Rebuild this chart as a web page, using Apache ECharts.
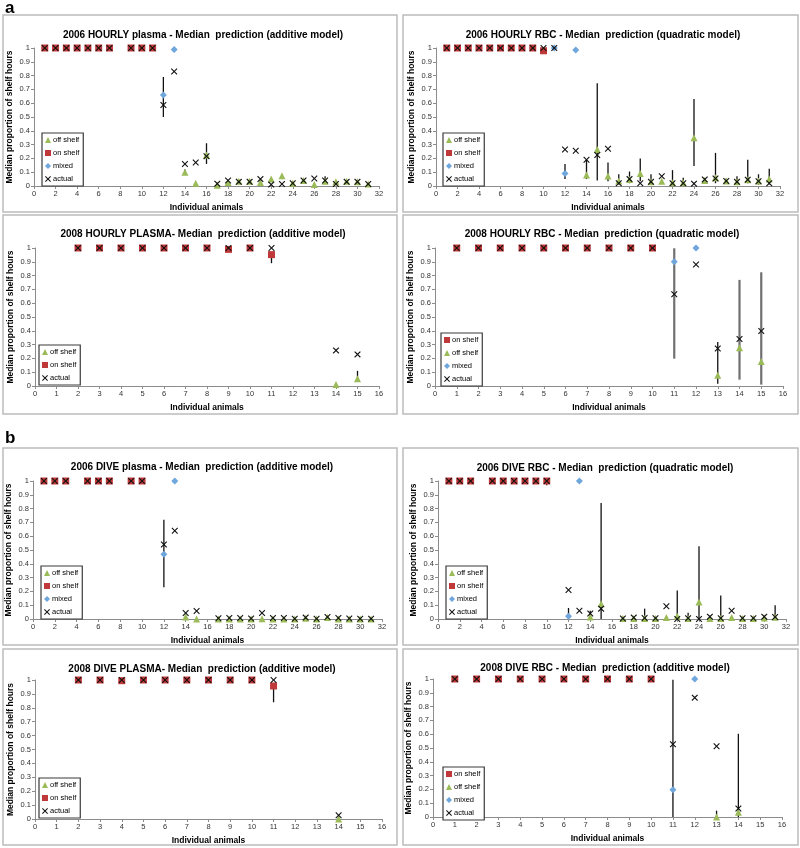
<!DOCTYPE html>
<html><head><meta charset="utf-8">
<script src="https://cdn.jsdelivr.net/npm/echarts@6/dist/echarts.min.js"></script>
<style>html,body{margin:0;padding:0;background:#fff}#c{width:800px;height:848px}</style>
</head><body><div id="c"></div>
<script>
// ---------- DATA ----------
const titles = [
  "2006 HOURLY plasma - Median  prediction (additive model)",
  "2006 HOURLY RBC - Median  prediction (quadratic model)",
  "2008 HOURLY PLASMA- Median  prediction (additive model)",
  "2008 HOURLY RBC - Median  prediction (quadratic model)",
  "2006 DIVE plasma - Median  prediction (additive model)",
  "2006 DIVE RBC - Median  prediction (quadratic model)",
  "2008 DIVE PLASMA- Median  prediction (additive model)",
  "2008 DIVE RBC - Median  prediction (additive model)"
];
const yTicks = [0,0.1,0.2,0.3,0.4,0.5,0.6,0.7,0.8,0.9,1];
const xMaxWide = 32, xMaxNarrow = 16;

// Panel 1: 2006 HOURLY plasma
const p1On = [[1,1],[2,1],[3,1],[4,1],[5,1],[6,1],[7,1],[9,1],[10,1],[11,1]];
const p1Mixed = [[12,0.66],[13,0.99]];
const p1Off = [[14,0.10],[15,0.02],[16,0.225],[17,0.005],[18,0.025],[19,0.035],[20,0.035],[21,0.025],[22,0.05],[23,0.075],[24,0.02],[25,0.04],[26,0.01],[27,0.035],[28,0.03],[29,0.035],[30,0.03],[31,0.015]];
const p1Actual = [[1,1],[2,1],[3,1],[4,1],[5,1],[6,1],[7,1],[9,1],[10,1],[11,1],[12,0.587],[13,0.83],[14,0.16],[15,0.17],[16,0.215],[17,0.017],[18,0.04],[19,0.03],[20,0.03],[21,0.05],[22,0.01],[23,0.015],[24,0.02],[25,0.04],[26,0.055],[27,0.04],[28,0.015],[29,0.03],[30,0.03],[31,0.015]];
const p1Err = [[12,0.50,0.79],[14,0.08,0.12],[16,0.16,0.31],[27,0.03,0.07]];

// Panel 2: 2006 HOURLY RBC
const p2On = [[1,1],[2,1],[3,1],[4,1],[5,1],[6,1],[7,1],[8,1],[9,1],[10,0.98]];
const p2Mixed = [[11,1],[12,0.09],[13,0.985]];
const p2Off = [[14,0.08],[15,0.265],[16,0.072],[17,0.036],[18,0.048],[19,0.09],[20,0.03],[21,0.034],[22,0.024],[23,0.024],[24,0.35],[25,0.04],[26,0.06],[27,0.036],[28,0.03],[29,0.046],[30,0.036],[31,0.05]];
const p2Actual = [[1,1],[2,1],[3,1],[4,1],[5,1],[6,1],[7,1],[8,1],[9,1],[10,1],[11,1],[12,0.265],[13,0.255],[14,0.19],[15,0.224],[16,0.27],[17,0.02],[18,0.05],[19,0.02],[20,0.03],[21,0.07],[22,0.02],[23,0.02],[24,0.017],[25,0.048],[26,0.055],[27,0.036],[28,0.03],[29,0.046],[30,0.034],[31,0.02]];
const p2Err = [[10,0.96,1.0],[12,0.05,0.16],[13,0.97,1.0],[14,0.05,0.19],[15,0.04,0.745],[16,0.035,0.17],[17,0.01,0.085],[18,0.02,0.105],[19,0.035,0.2],[20,0.01,0.085],[22,0.01,0.115],[23,0.01,0.06],[24,0.145,0.63],[26,0.02,0.24],[27,0.02,0.055],[28,0.01,0.07],[29,0.02,0.19],[30,0.01,0.085],[31,0.01,0.125]];

// Panel 3: 2008 HOURLY PLASMA
const p3On = [[2,1],[3,1],[4,1],[5,1],[6,1],[7,1],[8,1],[9,0.99],[10,1],[11,0.952]];
const p3Off = [[14,0.01],[15,0.053]];
const p3Actual = [[2,1],[3,1],[4,1],[5,1],[6,1],[7,1],[8,1],[9,1],[10,1],[11,1],[14,0.258],[15,0.229]];
const p3Err = [[11,0.89,0.95],[15,0.03,0.11]];

// Panel 4: 2008 HOURLY RBC
const p4On = [[1,1],[2,1],[3,1],[4,1],[5,1],[6,1],[7,1],[8,1],[9,1],[10,1]];
const p4Off = [[13,0.077],[14,0.277],[15,0.178]];
const p4Mixed = [[11,0.90],[12,1.0]];
const p4Actual = [[1,1],[2,1],[3,1],[4,1],[5,1],[6,1],[7,1],[8,1],[9,1],[10,1],[11,0.665],[12,0.88],[13,0.272],[14,0.34],[15,0.398]];
const p4Err = [[11,0.198,0.998],[13,0.017,0.318],[14,0.046,0.769],[15,0.01,0.824]];
const p4DarkErrAnimals = [13];

// Panel 5: 2006 DIVE plasma
const p5On = [[1,1],[2,1],[3,1],[5,1],[6,1],[7,1],[9,1],[10,1]];
const p5Mixed = [[12,0.47],[13,1.0]];
const p5Off = [[14,0.015],[15,0],[17,0],[18,0],[19,0],[20,0],[21,0.002],[22,0],[23,0],[24,0],[25,0.005],[26,0],[27,0.01],[28,0],[29,0],[30,0],[31,0]];
const p5Actual = [[1,1],[2,1],[3,1],[5,1],[6,1],[7,1],[9,1],[10,1],[12,0.54],[13,0.64],[14,0.043],[15,0.058],[17,0.005],[18,0.007],[19,0.007],[20,0.003],[21,0.043],[22,0.007],[23,0.007],[24,0.002],[25,0.01],[26,0.002],[27,0.015],[28,0.007],[29,0.003],[30,0.002],[31,0.002]];
const p5Err = [[12,0.23,0.72]];

// Panel 6: 2006 DIVE RBC
const p6On = [[1,1],[2,1],[3,1],[5,1],[6,1],[7,1],[8,1],[9,1],[10,1]];
const p6Mixed = [[12,0.02],[13,1.0]];
const p6Off = [[14,0.015],[15,0.11],[17,0.003],[18,0.003],[19,0.003],[20,0.003],[21,0.01],[22,0.02],[23,0.003],[24,0.123],[25,0.003],[26,0.003],[27,0.01],[28,0.003],[29,0.003],[30,0.007],[31,0.012]];
const p6Actual = [[1,1],[2,1],[3,1],[5,1],[6,1],[7,1],[8,1],[9,1],[10,1],[12,0.21],[13,0.06],[14,0.04],[15,0.075],[17,0.003],[18,0.01],[19,0.007],[20,0.005],[21,0.092],[22,0],[23,0.005],[24,0],[25,0.017],[26,0.005],[27,0.06],[28,0.005],[29,0.005],[30,0.017],[31,0.015]];
const p6Err = [[10,0.97,1.0],[12,0,0.08],[14,0,0.06],[15,0,0.84],[19,0,0.075],[22,0,0.207],[23,0,0.045],[24,0,0.527],[26,0,0.17],[31,0,0.1]];

// Panel 7: 2008 DIVE PLASMA
const p7On = [[2,1],[3,1],[4,0.995],[5,1],[6,1],[7,1],[8,1],[9,1],[10,1],[11,0.957]];
const p7Off = [[14,0]];
const p7Actual = [[2,1],[3,1],[4,1],[5,1],[6,1],[7,1],[8,1],[9,1],[10,1],[11,1],[14,0.027]];
const p7Err = [[11,0.84,0.96]];

// Panel 8: 2008 DIVE RBC
const p8On = [[1,1],[2,1],[3,1],[4,1],[5,1],[6,1],[7,1],[8,1],[9,1],[10,1]];
const p8Off = [[13,0],[14,0.034]];
const p8Mixed = [[11,0.197],[12,1.0]];
const p8Actual = [[1,1],[2,1],[3,1],[4,1],[5,1],[6,1],[7,1],[8,1],[9,1],[10,1],[11,0.527],[12,0.865],[13,0.512],[14,0.062]];
const p8Err = [[11,0,0.995],[13,0,0.046],[14,0,0.603]];

// ---------- LAYOUT / STYLE ----------
const FONT = "Liberation Sans, Arial, sans-serif";
const RED = "#C0393A", GREEN = "#9BBB59", BLUE = "#6FA6DC";
const XPATH = "path://M0,1.2 L1.2,0 L5,3.8 L8.8,0 L10,1.2 L6.2,5 L10,8.8 L8.8,10 L5,6.2 L1.2,10 L0,8.8 L3.8,5 Z";

const panels = [
  {grid:{left:34,top:48,width:345,height:138}, xMax:xMaxWide, xInt:2, tx:198, ty:25, on:p1On, off:p1Off, mixed:p1Mixed, actual:p1Actual, err:p1Err,
   legend:["off shelf","on shelf","mixed","actual"], lg:{left:42,top:133}, box:[3,15,394,197]},
  {grid:{left:436,top:48,width:344,height:138}, xMax:xMaxWide, xInt:2, tx:598, ty:25, on:p2On, off:p2Off, mixed:p2Mixed, actual:p2Actual, err:p2Err,
   legend:["off shelf","on shelf","mixed","actual"], lg:{left:443,top:133}, box:[403,15,395,197]},
  {grid:{left:35,top:248,width:344,height:138}, xMax:xMaxNarrow, xInt:1, tx:198, ty:224, on:p3On, off:p3Off, mixed:null, actual:p3Actual, err:p3Err,
   legend:["off shelf","on shelf","actual"], lg:{left:39,top:345}, box:[3,215,394,199]},
  {grid:{left:435,top:248,width:348,height:138}, xMax:xMaxNarrow, xInt:1, tx:597, ty:224, on:p4On, off:p4Off, mixed:p4Mixed, actual:p4Actual, err:p4Err, errColor:"#707070", errW:2.2, darkErr:p4DarkErrAnimals,
   legend:["on shelf","off shelf","mixed","actual"], lg:{left:441,top:333}, box:[403,215,395,199]},
  {grid:{left:33,top:481,width:349,height:138}, xMax:xMaxWide, xInt:2, tx:197, ty:457, on:p5On, off:p5Off, mixed:p5Mixed, actual:p5Actual, err:p5Err,
   legend:["off shelf","on shelf","mixed","actual"], lg:{left:41,top:566}, box:[3,448,394,197]},
  {grid:{left:438,top:481,width:348,height:138}, xMax:xMaxWide, xInt:2, tx:600, ty:458, on:p6On, off:p6Off, mixed:p6Mixed, actual:p6Actual, err:p6Err,
   legend:["off shelf","on shelf","mixed","actual"], lg:{left:446,top:566}, box:[403,448,395,197]},
  {grid:{left:35,top:680,width:347,height:139}, xMax:xMaxNarrow, xInt:1, tx:197, ty:659, on:p7On, off:p7Off, mixed:null, actual:p7Actual, err:p7Err,
   legend:["off shelf","on shelf","actual"], lg:{left:39,top:778}, box:[3,649,394,196]},
  {grid:{left:433,top:679,width:349,height:138}, xMax:xMaxNarrow, xInt:1, tx:600, ty:658, on:p8On, off:p8Off, mixed:p8Mixed, actual:p8Actual, err:p8Err,
   legend:["on shelf","off shelf","mixed","actual"], lg:{left:443,top:767}, box:[403,649,395,196]}
];

const option = {
  animation:false,
  backgroundColor:"#fff",
  textStyle:{fontFamily:FONT},
  title:[], legend:[], grid:[], xAxis:[], yAxis:[], series:[],
  graphic:[
    {type:"text", left:5, top:0, style:{text:"a", font:"bold 17px "+FONT, fill:"#000"}},
    {type:"text", left:5, top:430, style:{text:"b", font:"bold 17px "+FONT, fill:"#000"}}
  ]
};

panels.forEach((p,i)=>{
  option.graphic.push({type:"rect", shape:{x:p.box[0],y:p.box[1],width:p.box[2],height:p.box[3]},
    style:{fill:"none", stroke:"#bcbcbc", lineWidth:1.5}, z:-1});
  option.title.push({text:titles[i], left:p.tx, top:p.ty, textAlign:"center",
    textStyle:{fontSize:10, fontWeight:"bold", color:"#000", fontFamily:FONT}});
  option.grid.push(Object.assign({containLabel:false}, p.grid));
  option.xAxis.push({gridIndex:i, type:"value", min:0, max:p.xMax, interval:p.xInt,
    name:"Individual animals", nameLocation:"middle", nameGap:17,
    nameTextStyle:{fontSize:8.5, fontWeight:"bold", color:"#000", fontFamily:FONT},
    axisLine:{lineStyle:{color:"#8c8c8c"}}, axisTick:{length:3, lineStyle:{color:"#8c8c8c"}},
    axisLabel:{fontSize:7.5, color:"#333", margin:4}, splitLine:{show:false}});
  option.yAxis.push({gridIndex:i, type:"value", min:0, max:1, interval:0.1,
    name:"Median proportion of shelf hours", nameLocation:"middle", nameGap:20,
    nameTextStyle:{fontSize:8.5, fontWeight:"bold", color:"#000", fontFamily:FONT},
    axisLine:{show:true, lineStyle:{color:"#8c8c8c"}}, axisTick:{show:true, length:3, lineStyle:{color:"#8c8c8c"}},
    axisLabel:{fontSize:7.5, color:"#333", margin:4, formatter:(v)=>String(Math.round(v*10)/10)}, splitLine:{show:false}});
  // error bars
  option.series.push({type:"custom", name:"err"+i, xAxisIndex:i, yAxisIndex:i, data:p.err, z:1,
    encode:{x:0, y:[1,2]},
    renderItem:(params, api)=>{
      const xv = api.value(0);
      const a = api.coord([xv, api.value(1)]);
      const b = api.coord([xv, api.value(2)]);
      const dark = !p.errColor || (p.darkErr && p.darkErr.indexOf(xv) >= 0);
      return {type:"line", shape:{x1:a[0],y1:a[1],x2:b[0],y2:b[1]},
        style:{stroke:dark?"#111":p.errColor, lineWidth:dark?1.3:p.errW}};
    }});
  option.series.push({type:"scatter", name:"off shelf", xAxisIndex:i, yAxisIndex:i, data:p.off, clip:false, z:2,
    symbol:"triangle", symbolSize:7, itemStyle:{color:GREEN, opacity:1}});
  option.series.push({type:"scatter", name:"on shelf", xAxisIndex:i, yAxisIndex:i, data:p.on, clip:false, z:2,
    symbol:"rect", symbolSize:7, itemStyle:{color:RED, opacity:1}});
  if (p.mixed) option.series.push({type:"scatter", name:"mixed", xAxisIndex:i, yAxisIndex:i, data:p.mixed, clip:false, z:2,
    symbol:"diamond", symbolSize:[7,7], itemStyle:{color:BLUE, opacity:1}});
  option.series.push({type:"scatter", name:"actual", xAxisIndex:i, yAxisIndex:i, data:p.actual, clip:false, z:3,
    symbol:XPATH, symbolSize:6.5, itemStyle:{color:"#111", opacity:1}});
  option.legend.push({data:p.legend, left:p.lg.left, top:p.lg.top, orient:"vertical",
    itemWidth:6, itemHeight:6, itemGap:5, padding:[3,4,3,3],
    borderColor:"#3a3a3a", borderWidth:1.2, backgroundColor:"#fff",
    textStyle:{fontSize:7.5, color:"#000", fontFamily:FONT, padding:[0,0,0,-3]}, selectedMode:false, z:10});
});

const chart = echarts.init(document.getElementById("c"), null, {renderer:"canvas"});
chart.setOption(option);
</script>
</body></html>
